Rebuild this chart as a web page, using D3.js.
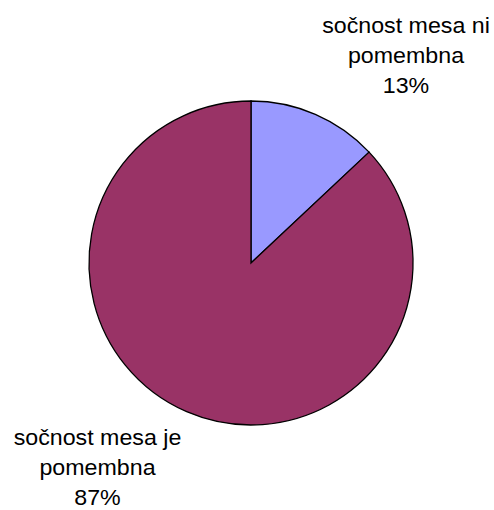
<!DOCTYPE html>
<html>
<head>
<meta charset="utf-8">
<script src="https://cdn.jsdelivr.net/npm/d3@7"></script>
<style>
  body { margin: 0; background: #fff; }
  svg { display: block; }
</style>
</head>
<body>
<div id="chart"></div>
<script>
// Data
const categories = ["sočnost mesa ni pomembna", "sočnost mesa je pomembna"];
const values = [13, 87];
const labelLines = [["sočnost mesa ni", "pomembna", "13%"], ["sočnost mesa je", "pomembna", "87%"]];
const colors = ["#9999FF", "#993366"];

const width = 494, height = 510;
const cx = 251, cy = 263, radius = 162;

const svg = d3.select("#chart")
  .append("svg")
  .attr("width", width)
  .attr("height", height);

const data = categories.map((c, i) => ({ name: c, value: values[i], lines: labelLines[i], color: colors[i] }));

const pie = d3.pie()
  .value(d => d.value)
  .sort(null);

const arc = d3.arc()
  .innerRadius(0)
  .outerRadius(radius);

const g = svg.append("g")
  .attr("transform", `translate(${cx},${cy})`);

g.selectAll("path")
  .data(pie(data))
  .enter()
  .append("path")
  .attr("d", arc)
  .attr("fill", d => d.data.color)
  .attr("stroke", "#000")
  .attr("stroke-width", 1.3);

// Labels placed outside the pie (first baseline of each block)
const labelPos = [
  { x: 406, y: 33 },
  { x: 97.5, y: 445 }
];
const lineGap = 30;

const labels = svg.selectAll(".label")
  .data(data)
  .enter()
  .append("text")
  .attr("class", "label")
  .attr("transform", (d, i) => `translate(${labelPos[i].x},${labelPos[i].y}) scale(1.055,1)`)
  .attr("text-anchor", "middle")
  .attr("font-family", "'Liberation Sans', Arial, sans-serif")
  .attr("font-size", "22px")
  .attr("fill", "#000");

labels.each(function(d) {
  const t = d3.select(this);
  d.lines.forEach((line, j) => {
    t.append("tspan")
      .attr("x", 0)
      .attr("y", j * lineGap)
      .text(line);
  });
});
</script>
</body>
</html>
